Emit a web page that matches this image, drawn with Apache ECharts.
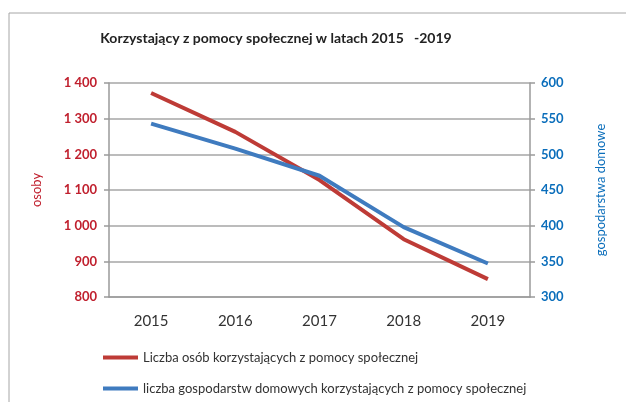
<!DOCTYPE html>
<html>
<head>
<meta charset="utf-8">
<script src="https://cdn.jsdelivr.net/npm/echarts@6/dist/echarts.min.js"></script>
<style>
  html, body { margin: 0; padding: 0; background: #fff; }
  #chart { width: 626px; height: 402px; }
</style>
</head>
<body>
<div id="chart"></div>
<script>
  const years = ['2015', '2016', '2017', '2018', '2019'];
  const persons = [1372, 1263, 1128, 962, 850];
  const households = [543, 508, 470, 398, 347];
  const leftTicks = [800, 900, 1000, 1100, 1200, 1300, 1400];
  const rightTicks = [300, 350, 400, 450, 500, 550, 600];

  const red = '#BE3B36';
  const blue = '#3F7BBF';
  const redText = '#C0202E';
  const blueText = '#0B6EBB';
  const font = 'Lato';

  const fmtThousands = (v) => {
    const s = String(v);
    return s.length > 3 ? s.slice(0, -3) + ' ' + s.slice(-3) : s;
  };

  const chart = echarts.init(document.getElementById('chart'));

  const option = {
    animation: false,
    textStyle: { fontFamily: font },
    graphic: [
      {
        type: 'rect',
        shape: { x: 9, y: 13, width: 700, height: 500 },
        style: { fill: 'none', stroke: '#A6A6A6', lineWidth: 1 },
        silent: true,
      },
    ],
    title: {
      text: 'Korzystający z pomocy społecznej w latach 2015   -2019',
      left: 271,
      textAlign: 'center',
      top: 26,
      textStyle: { fontSize: 14, fontWeight: 'bold', color: '#222', fontFamily: font },
    },
    legend: {
      orient: 'vertical',
      left: 98,
      top: 346,
      itemGap: 18,
      itemWidth: 35,
      itemHeight: 4,
      icon: 'rect',
      textStyle: { fontSize: 13, color: '#333', fontFamily: font },
      data: [
        'Liczba osób korzystających z pomocy społecznej',
        'liczba gospodarstw domowych korzystających z pomocy społecznej',
      ],
    },
    grid: { left: 109, right: 96, top: 83, bottom: 105 },
    xAxis: {
      type: 'category',
      data: years,
      boundaryGap: true,
      axisLine: { lineStyle: { color: '#9A9A9A', width: 1.5 } },
      axisTick: { length: 5, lineStyle: { color: '#9A9A9A', width: 1.5 } },
      axisLabel: { fontSize: 15, color: '#333', margin: 17 },
    },
    yAxis: [
      {
        type: 'value',
        min: leftTicks[0],
        max: leftTicks[leftTicks.length - 1],
        interval: 100,
        position: 'left',
        name: 'osoby',
        nameLocation: 'middle',
        nameGap: 66,
        nameRotate: 90,
        nameTextStyle: { color: redText, fontSize: 13 },
        axisLine: { show: true, lineStyle: { color: '#9A9A9A', width: 1.5 } },
        axisTick: { show: true, length: 5, lineStyle: { color: '#9A9A9A', width: 1.5 } },
        axisLabel: {
          color: redText,
          fontWeight: 'bold',
          fontSize: 13,
          margin: 12,
          formatter: fmtThousands,
        },
        splitLine: { lineStyle: { color: '#A6A6A6', width: 1.5 } },
      },
      {
        type: 'value',
        min: rightTicks[0],
        max: rightTicks[rightTicks.length - 1],
        interval: 50,
        position: 'right',
        name: 'gospodarstwa domowe',
        nameLocation: 'middle',
        nameGap: 64,
        nameRotate: 90,
        nameTextStyle: { color: blueText, fontSize: 13 },
        axisLine: { show: true, lineStyle: { color: '#9A9A9A', width: 1.5 } },
        axisTick: { show: true, length: 5, lineStyle: { color: '#9A9A9A', width: 1.5 } },
        axisLabel: { color: blueText, fontWeight: 'bold', fontSize: 13, margin: 11 },
        splitLine: { show: false },
      },
    ],
    series: [
      {
        name: 'Liczba osób korzystających z pomocy społecznej',
        type: 'line',
        yAxisIndex: 0,
        data: persons,
        showSymbol: false,
        symbol: 'none',
        itemStyle: { color: red },
        lineStyle: { color: red, width: 4 },
      },
      {
        name: 'liczba gospodarstw domowych korzystających z pomocy społecznej',
        type: 'line',
        yAxisIndex: 1,
        data: households,
        showSymbol: false,
        symbol: 'none',
        itemStyle: { color: blue },
        lineStyle: { color: blue, width: 4 },
      },
    ],
  };

  chart.setOption(option);
</script>
</body>
</html>
